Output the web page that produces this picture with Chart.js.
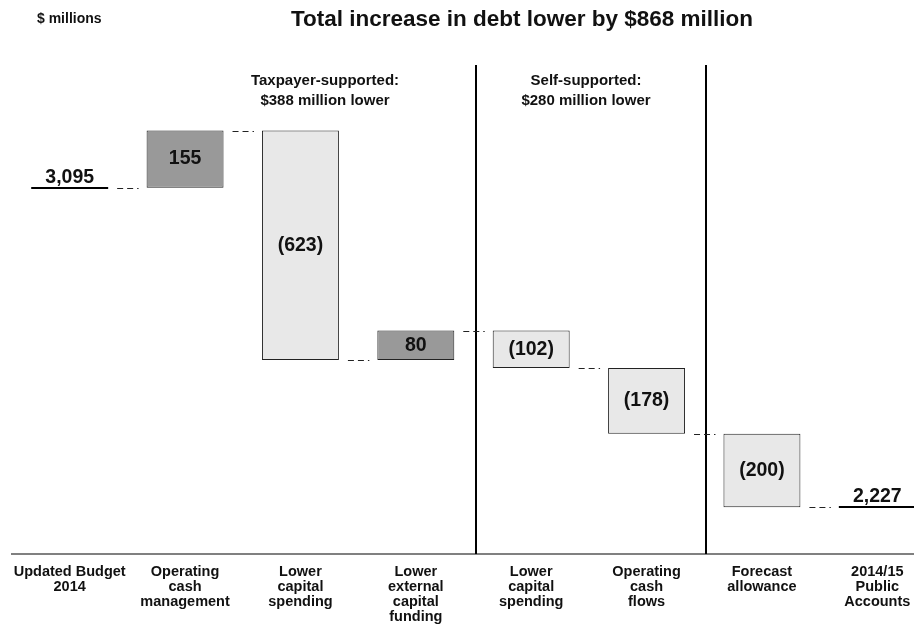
<!DOCTYPE html>
<html>
<head>
<meta charset="utf-8">
<script src="https://cdn.jsdelivr.net/npm/chart.js@4.4.1/dist/chart.umd.min.js"></script>
<style>
  html, body { margin: 0; padding: 0; background: #fff; overflow: hidden; }
  #wrap { position: relative; width: 940px; height: 626px; }
</style>
</head>
<body>
<div id="wrap"><canvas id="debt" width="940" height="626"></canvas></div>
<script>
// debt bridge, $ millions
var categories = [
    ['Updated Budget', '2014'],
    ['Operating', 'cash', 'management'],
    ['Lower', 'capital', 'spending'],
    ['Lower', 'external', 'capital', 'funding'],
    ['Lower', 'capital', 'spending'],
    ['Operating', 'cash', 'flows'],
    ['Forecast', 'allowance'],
    ['2014/15', 'Public', 'Accounts']
];
var startTotal = 3095;
var changes = [155, -623, 80, -102, -178, -200];
var endTotal = 2227;
var dividerAfter = [3, 5];
var groupNotes = [
    { x: 325, lines: ['Taxpayer-supported:', '$388 million lower'] },
    { x: 586, lines: ['Self-supported:', '$280 million lower'] }
];
var titleText = 'Total increase in debt lower by $868 million';
var unitText = '$ millions';

var FONT = '"Liberation Sans", Arial, sans-serif';

// floating ranges for the change bars; first and last slots hold the totals
var ranges = [null];
var levels = [startTotal];
var running = startTotal;
changes.forEach(function(c){
    ranges.push([running, running + c]);
    running += c;
    levels.push(running);
});
ranges.push(null);

function fmt(v){
    var s = Math.abs(v).toLocaleString('en-US');
    return v < 0 ? '(' + s + ')' : s;
}

var bridge = {
    id: 'bridge',
    afterDatasetsDraw: function(chart){
        var ctx = chart.ctx, x = chart.scales.x, y = chart.scales.y;
        var bars = chart.getDatasetMeta(0).data;
        var bw = bars[1].width;
        var area = chart.chartArea;

        function edges(i){
            var cx = x.getPixelForValue(i);
            return [cx - bw / 2, cx + bw / 2];
        }

        ctx.save();
        // group dividers
        ctx.strokeStyle = '#000';
        ctx.lineWidth = 2;
        dividerAfter.forEach(function(i){
            var px = Math.round((x.getPixelForTick(i) + x.getPixelForTick(i + 1)) / 2) + 2;
            ctx.beginPath();
            ctx.moveTo(px, area.top);
            ctx.lineTo(px, area.bottom);
            ctx.stroke();
        });

        // total markers
        [[0, startTotal], [categories.length - 1, endTotal]].forEach(function(t){
            var e = edges(t[0]), py = Math.round(y.getPixelForValue(t[1]));
            ctx.strokeStyle = '#000';
            ctx.lineWidth = 2;
            ctx.beginPath();
            ctx.moveTo(e[0], py);
            ctx.lineTo(e[1], py);
            ctx.stroke();
            ctx.fillStyle = '#111';
            ctx.font = 'bold 19.5px ' + FONT;
            ctx.textAlign = 'center';
            ctx.textBaseline = 'alphabetic';
            ctx.fillText(fmt(t[1]), (e[0] + e[1]) / 2, py - 5);
        });

        // dashed connectors
        ctx.strokeStyle = '#222';
        ctx.lineWidth = 1;
        ctx.setLineDash([6, 4]);
        levels.forEach(function(v, i){
            var l = edges(i), r = edges(i + 1), py = Math.round(y.getPixelForValue(v)) + 0.5;
            ctx.beginPath();
            ctx.moveTo(l[1] + 9, py);
            ctx.lineTo(r[0] - 8, py);
            ctx.stroke();
        });
        ctx.setLineDash([]);

        // values inside bars
        ctx.fillStyle = '#111';
        ctx.font = 'bold 19.5px ' + FONT;
        ctx.textAlign = 'center';
        ctx.textBaseline = 'middle';
        changes.forEach(function(c, k){
            var b = bars[k + 1];
            ctx.fillText(fmt(c), b.x, (b.y + b.base) / 2);
        });

        // headings
        ctx.textBaseline = 'alphabetic';
        ctx.font = 'bold 22.5px ' + FONT;
        ctx.fillText(titleText, 522, 26);
        ctx.textAlign = 'left';
        ctx.font = 'bold 14px ' + FONT;
        ctx.fillText(unitText, 37, 23);
        ctx.textAlign = 'center';
        ctx.font = 'bold 15px ' + FONT;
        groupNotes.forEach(function(n){
            n.lines.forEach(function(s, j){
                ctx.fillText(s, n.x, 85 + j * 20);
            });
        });
        ctx.restore();
    }
};

var isUp = changes.map(function(c){ return c > 0; });

new Chart(document.getElementById('debt').getContext('2d'), {
    type: 'bar',
    data: {
        labels: categories,
        datasets: [{
            data: ranges,
            backgroundColor: [null].concat(isUp.map(function(u){ return u ? '#999999' : '#e8e8e8'; })).concat([null]),
            borderColor: '#222',
            borderWidth: 1,
            borderSkipped: false,
            categoryPercentage: 1,
            barPercentage: 0.667
        }]
    },
    options: {
        responsive: false,
        animation: false,
        devicePixelRatio: 1,
        layout: { padding: { left: 12, right: 5, top: 65, bottom: -9 } },
        plugins: { legend: { display: false }, tooltip: { enabled: false } },
        scales: {
            x: {
                grid: { display: false, drawTicks: false },
                border: { display: true, color: '#808080', width: 2 },
                ticks: {
                    color: '#111',
                    padding: 10,
                    autoSkip: false,
                    maxRotation: 0,
                    font: { family: FONT, size: 14.5, weight: 'bold', lineHeight: 1.05 }
                }
            },
            y: { display: false, min: 2100, max: 3428 }
        }
    },
    plugins: [bridge]
});
</script>
</body>
</html>
